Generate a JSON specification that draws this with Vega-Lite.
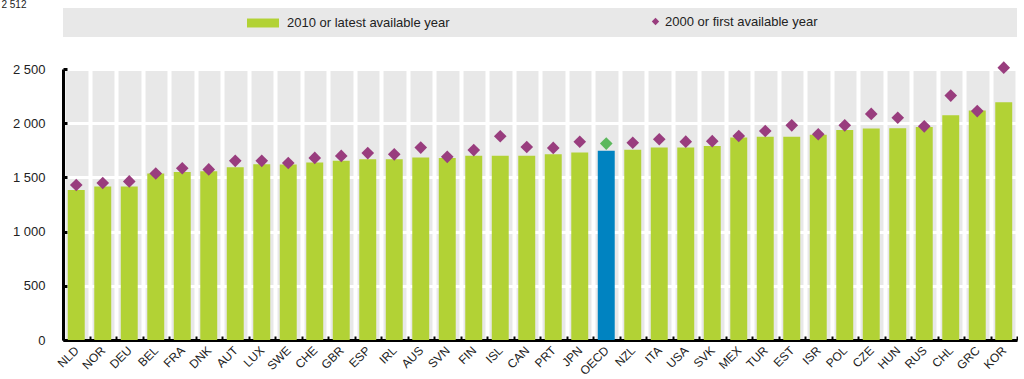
{
  "$schema": "https://vega.github.io/schema/vega-lite/v6.json",
  "background": "white",
  "padding": {"left": 1, "top": 0, "right": 0, "bottom": 0},
  "title": {"text": "2 512", "anchor": "start", "frame": "bounds", "fontSize": 10, "fontWeight": "normal", "font": "Liberation Sans", "color": "#222", "baseline": "top", "offset": -3, "dx": -11},
  "config": {
    "font": "Liberation Sans",
    "view": {"fill": "#e8e8e8", "stroke": null}
  },
  "spacing": 32,
  "bounds": "flush",
  "vconcat": [
    {
      "width": 954,
      "height": 29,
      "data": {"values": [{"box": "legend"}]},
      "mark": {"type": "rect", "color": "#e8e8e8"},
      "encoding": {}
    },
    {
      "width": 954,
      "height": 271,
      "data": {"values": [
        {"country": "NLD", "v2010": 1384, "v2000": 1430},
        {"country": "NOR", "v2010": 1415, "v2000": 1448},
        {"country": "DEU", "v2010": 1416, "v2000": 1463},
        {"country": "BEL", "v2010": 1536, "v2000": 1536},
        {"country": "FRA", "v2010": 1550, "v2000": 1584},
        {"country": "DNK", "v2010": 1556, "v2000": 1574},
        {"country": "AUT", "v2010": 1594, "v2000": 1653},
        {"country": "LUX", "v2010": 1622, "v2000": 1653},
        {"country": "SWE", "v2010": 1618, "v2000": 1633},
        {"country": "CHE", "v2010": 1638, "v2000": 1680},
        {"country": "GBR", "v2010": 1653, "v2000": 1698},
        {"country": "ESP", "v2010": 1668, "v2000": 1724},
        {"country": "IRL", "v2010": 1668, "v2000": 1713},
        {"country": "AUS", "v2010": 1684, "v2000": 1775},
        {"country": "SVN", "v2010": 1680, "v2000": 1690},
        {"country": "FIN", "v2010": 1699, "v2000": 1752},
        {"country": "ISL", "v2010": 1699, "v2000": 1880},
        {"country": "CAN", "v2010": 1700, "v2000": 1780},
        {"country": "PRT", "v2010": 1714, "v2000": 1772},
        {"country": "JPN", "v2010": 1730, "v2000": 1829},
        {"country": "OECD", "v2010": 1745, "v2000": 1812},
        {"country": "NZL", "v2010": 1755, "v2000": 1820},
        {"country": "ITA", "v2010": 1775, "v2000": 1852},
        {"country": "USA", "v2010": 1776, "v2000": 1830},
        {"country": "SVK", "v2010": 1790, "v2000": 1834},
        {"country": "MEX", "v2010": 1868, "v2000": 1882},
        {"country": "TUR", "v2010": 1876, "v2000": 1928},
        {"country": "EST", "v2010": 1876, "v2000": 1980},
        {"country": "ISR", "v2010": 1893, "v2000": 1898},
        {"country": "POL", "v2010": 1938, "v2000": 1980},
        {"country": "CZE", "v2010": 1952, "v2000": 2086},
        {"country": "HUN", "v2010": 1953, "v2000": 2050},
        {"country": "RUS", "v2010": 1966, "v2000": 1971},
        {"country": "CHL", "v2010": 2073, "v2000": 2255},
        {"country": "GRC", "v2010": 2117, "v2000": 2112},
        {"country": "KOR", "v2010": 2194, "v2000": 2512}
      ]},
      "encoding": {
        "x": {
          "field": "country", "type": "nominal", "sort": null,
          "scale": {"paddingInner": 0, "paddingOuter": 0},
          "axis": {
            "title": null,
            "tickBand": "extent",
            "grid": true, "gridColor": "white", "gridWidth": 4, "gridOpacity": 1,
            "domainColor": "black", "domainWidth": 3,
            "ticks": true, "tickColor": "black", "tickWidth": 2, "tickSize": -4,
            "labelAngle": -45, "labelAlign": "right", "labelBaseline": "middle",
            "labelFontSize": 12, "labelColor": "#222", "labelPadding": 12
          }
        }
      },
      "layer": [
        {
          "mark": {"type": "bar", "width": {"band": 0.64}},
          "encoding": {
            "y": {
              "field": "v2010", "type": "quantitative",
              "scale": {"domain": [0, 2500], "nice": false},
              "axis": {
                "title": null,
                "values": [0, 500, 1000, 1500, 2000, 2500],
                "labelExpr": "replace(format(datum.value, ','), ',', ' ')",
                "grid": true, "gridColor": "white", "gridWidth": 3, "gridOpacity": 1,
                "domainColor": "black", "domainWidth": 3,
                "tickColor": "black", "tickWidth": 3, "tickSize": -4,
                "labelFontSize": 13, "labelColor": "#222", "labelPadding": 22
              }
            },
            "fill": {
              "condition": {"test": "datum.country === 'OECD'", "value": "#0083c1"},
              "datum": "2010 or latest available year",
              "scale": {"range": ["#b2d235"]},
              "legend": {
                "orient": "none", "legendX": 184, "legendY": -1,
                "title": null,
                "symbolType": "M-1,-0.28H1V0.28H-1Z",
                "symbolSize": 1024,
                "symbolStrokeWidth": 0,
                "labelFontSize": 13, "labelColor": "#222", "labelOffset": 8, "labelLimit": 400
              }
            }
          }
        },
        {
          "mark": {"type": "point", "filled": true, "size": 160, "opacity": 1, "clip": false},
          "encoding": {
            "y": {"field": "v2000", "type": "quantitative"},
            "shape": {
              "datum": "2000 or first available year",
              "scale": {"range": ["diamond"]},
              "legend": {
                "orient": "none", "legendX": 586, "legendY": 7,
                "title": null,
                "symbolSize": 55,
                "symbolFillColor": "#993d7e",
                "symbolStrokeWidth": 0,
                "labelFontSize": 13, "labelColor": "#222", "labelOffset": 3, "labelLimit": 400
              }
            },
            "color": {
              "condition": {"test": "datum.country === 'OECD'", "value": "#5cb85c"},
              "value": "#993d7e"
            }
          }
        }
      ]
    }
  ]
}
